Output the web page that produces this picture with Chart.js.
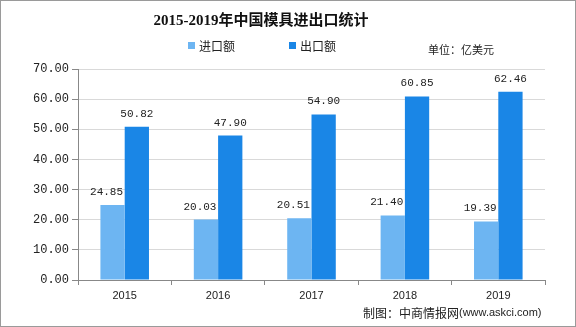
<!DOCTYPE html>
<html>
<head>
<meta charset="utf-8">
<script src="https://cdn.jsdelivr.net/npm/chart.js@4"></script>
<style>
  html, body { margin: 0; padding: 0; background: #fff; }
  #wrap { width: 576px; height: 327px; }
</style>
</head>
<body>
<div id="wrap"><canvas id="moldChart" width="576" height="327"></canvas></div>
<script>
const years = ["2015", "2016", "2017", "2018", "2019"];
const imports = [24.85, 20.03, 20.51, 21.40, 19.39];
const exports = [50.82, 47.90, 54.90, 60.85, 62.46];
const yTicks = [0, 10, 20, 30, 40, 50, 60, 70];

const lightBlue = "#6db5f2";
const darkBlue = "#1a86e6";
const cjk = "'Noto Sans CJK SC', sans-serif";

// title, legend, unit, footer, value labels and frame
const decor = {
  id: "decor",
  afterDatasetsDraw(chart) {
    const c = chart.ctx;
    c.save();
    c.fillStyle = "#222";
    c.font = "11px 'Liberation Mono', monospace";
    c.textAlign = "center";
    c.textBaseline = "middle";
    chart.data.datasets.forEach((ds, di) => {
      const dx = di === 0 ? -6 : 0; // import labels sit a little left, as in the source
      chart.getDatasetMeta(di).data.forEach((bar, i) => {
        c.fillText(ds.data[i].toFixed(2), bar.x + dx, bar.y - 13);
      });
    });
    c.restore();
  },
  afterDraw(chart) {
    const c = chart.ctx;
    c.save();
    c.textBaseline = "middle";

    c.fillStyle = "#111";
    c.textAlign = "center";
    c.font = "bold 15px 'Liberation Serif', " + cjk;
    c.fillText("2015-2019年中国模具进出口统计", 261, 21);

    c.textAlign = "left";
    c.font = "12px " + cjk;
    c.fillStyle = lightBlue;
    c.fillRect(188, 42, 7, 7);
    c.fillStyle = darkBlue;
    c.fillRect(289, 42, 7, 7);
    c.fillStyle = "#222";
    c.fillText("进口额", 199, 46);
    c.fillText("出口额", 300, 46);

    c.font = "11px " + cjk;
    c.fillText("单位：亿美元", 428, 50);

    c.font = "12px " + cjk;
    c.fillText("制图：中商情报网", 363, 313);
    c.font = "11px 'Liberation Sans', sans-serif";
    c.fillText("(www.askci.com)", 459, 313);

    c.strokeStyle = "#9a9a9a";
    c.lineWidth = 1;
    c.strokeRect(0.5, 0.5, 575, 326);
    c.restore();
  }
};

new Chart(document.getElementById("moldChart").getContext("2d"), {
  type: "bar",
  data: {
    labels: years,
    datasets: [
      { label: "进口额", data: imports, backgroundColor: lightBlue },
      { label: "出口额", data: exports, backgroundColor: darkBlue }
    ]
  },
  options: {
    responsive: false,
    animation: false,
    layout: { padding: { top: 69, right: 31, bottom: 0, left: 0 } },
    plugins: {
      legend: { display: false },
      title: { display: false },
      tooltip: { enabled: false }
    },
    datasets: {
      bar: { categoryPercentage: 0.52, barPercentage: 1 }
    },
    scales: {
      x: {
        grid: {
          offset: true,
          drawOnChartArea: false,
          drawTicks: true,
          tickLength: 5,
          color: "#888"
        },
        border: { color: "#888" },
        ticks: {
          color: "#222",
          padding: 4,
          font: { family: "'Liberation Sans', sans-serif", size: 11 }
        },
        afterFit(scale) { scale.height = 47; }
      },
      y: {
        min: 0,
        max: 70,
        afterBuildTicks(scale) { scale.ticks = yTicks.map(v => ({ value: v })); },
        grid: { color: "#d9d9d9", tickLength: 6, tickColor: "#888" },
        border: { color: "#888" },
        ticks: {
          color: "#222",
          padding: 3,
          font: { family: "'Liberation Mono', monospace", size: 12 },
          callback: v => v.toFixed(2)
        },
        afterFit(scale) { scale.width = 78; }
      }
    }
  },
  plugins: [decor]
});
</script>
</body>
</html>
